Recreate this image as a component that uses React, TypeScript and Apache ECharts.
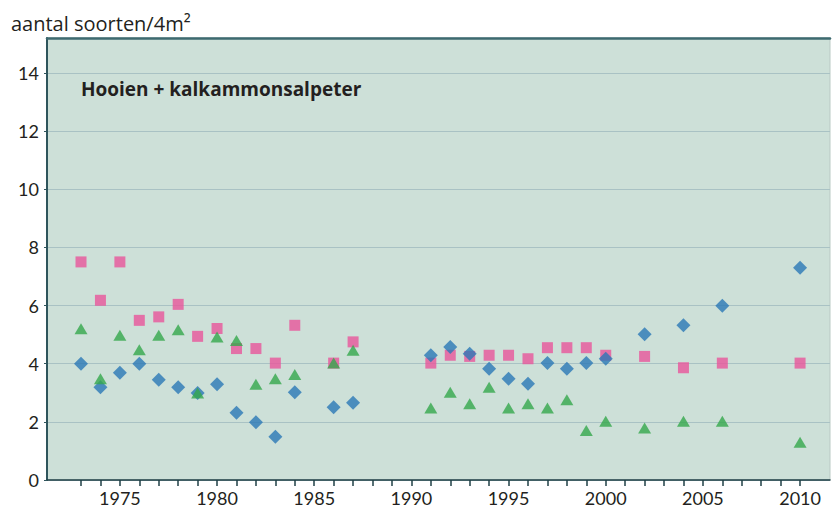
import React, { useEffect, useRef } from "react";
import * as echarts from "echarts";

const yearsEarly = [1973, 1974, 1975, 1976, 1977, 1978, 1979, 1980, 1981, 1982, 1983, 1984, 1986, 1987];
const yearsLate = [1991, 1992, 1993, 1994, 1995, 1996, 1997, 1998, 1999, 2000, 2002, 2004, 2006, 2010];
const years = [...yearsEarly, ...yearsLate];

const pinkValues = [7.5, 6.18, 7.5, 5.49, 5.61, 6.04, 4.94, 5.21, 4.52, 4.52, 4.02, 5.32, 4.02, 4.75,
  4.02, 4.29, 4.25, 4.29, 4.29, 4.17, 4.55, 4.55, 4.55, 4.29, 4.25, 3.86, 4.02, 4.02];
const greenValues = [5.2, 3.48, 4.98, 4.48, 4.98, 5.17, 2.99, 4.92, 4.8, 3.29, 3.48, 3.63, 4.02, 4.46,
  2.48, 3.02, 2.62, 3.19, 2.48, 2.62, 2.48, 2.76, 1.7, 2.02, 1.79, 2.02, 2.02, 1.3];
const blueValues = [4.0, 3.19, 3.69, 4.0, 3.45, 3.19, 2.99, 3.29, 2.31, 1.99, 1.49, 3.02, 2.5, 2.66,
  4.29, 4.57, 4.34, 3.83, 3.48, 3.31, 4.02, 3.83, 4.02, 4.17, 5.01, 5.32, 5.99, 7.3];

const xTickValues: number[] = [];
for (let y = 1973; y <= 2010; y++) xTickValues.push(y);
const xLabelValues = [1975, 1980, 1985, 1990, 1995, 2000, 2005, 2010];
const yTickLabels = [0, 2, 4, 6, 8, 10, 12, 14];

const FONT = "'Open Sans', Lato, sans-serif";
const NUMFONT = "Lato, 'Open Sans', sans-serif";

export default function App() {
  const ref = useRef<HTMLDivElement>(null);
  useEffect(() => {
    if (!ref.current) return;
    const chart = echarts.init(ref.current, null, { renderer: "svg" });
    const pair = (vals: number[]) => years.map((y, i) => [y, vals[i]]);
    chart.setOption({
      animation: false,
      backgroundColor: "#ffffff",
      grid: {
        left: 47,
        right: 2,
        top: 38,
        bottom: 33,
        show: true,
        backgroundColor: "#cde0d8",
        borderColor: "#b9c9c4",
        borderWidth: 1,
      },
      title: [
        {
          text: "aantal soorten/4m²",
          left: 6,
          top: 8,
          textStyle: { fontFamily: FONT, fontSize: 20, fontWeight: "normal", color: "#231f20" },
        },
        {
          text: "Hooien + kalkammonsalpeter",
          left: 76,
          top: 74,
          textStyle: { fontFamily: FONT, fontSize: 19, fontWeight: "bold", color: "#231f20" },
        },
      ],
      xAxis: [
        {
          type: "value",
          min: 1971.25,
          max: 2011.54,
          splitLine: { show: false },
          axisLine: { show: true, lineStyle: { color: "#1f3f46", width: 1.5 } },
          axisTick: {
            show: true,
            customValues: xTickValues,
            length: 6,
            lineStyle: { color: "#1f3f46", width: 1.5 },
          },
          axisLabel: {
            customValues: xLabelValues,
            formatter: (v: number) => String(Math.round(v)),
            fontFamily: NUMFONT,
            fontSize: 18,
            color: "#231f20",
            margin: 9,
          },
        },
        {
          type: "value",
          position: "top",
          min: 1971.25,
          max: 2011.54,
          splitLine: { show: false },
          axisLine: { show: true, lineStyle: { color: "#3e6a70", width: 2.5 } },
          axisTick: { show: false },
          axisLabel: { show: false },
        },
      ],
      yAxis: {
        type: "value",
        min: 0,
        max: 15.2,
        interval: 2,
        axisLine: { show: true, lineStyle: { color: "#2f555c", width: 2 } },
        axisTick: { show: true, length: 3, customValues: yTickLabels, lineStyle: { color: "#2f555c" } },
        splitLine: { show: true, lineStyle: { color: "#a9c2c4", width: 1 } },
        axisLabel: {
          customValues: yTickLabels,
          formatter: (v: number) => String(Math.round(v)),
          fontFamily: NUMFONT,
          fontSize: 18,
          color: "#231f20",
          margin: 8,
        },
      },
      series: [
        {
          name: "roze",
          type: "scatter",
          symbol: "rect",
          symbolSize: 11,
          itemStyle: { color: "#e9559b" },
          data: pair(pinkValues),
        },
        {
          name: "blauw",
          type: "scatter",
          symbol: "diamond",
          symbolSize: [14, 14],
          itemStyle: { color: "#2a78b6" },
          data: pair(blueValues),
        },
        {
          name: "groen",
          type: "scatter",
          symbol: "triangle",
          symbolSize: [13, 11],
          itemStyle: { color: "#35a84c" },
          data: pair(greenValues),
        },
      ],
    });
    return () => chart.dispose();
  }, []);
  return <div ref={ref} style={{ width: 832, height: 513, position: "absolute", left: 0, top: 0 }} />;
}
